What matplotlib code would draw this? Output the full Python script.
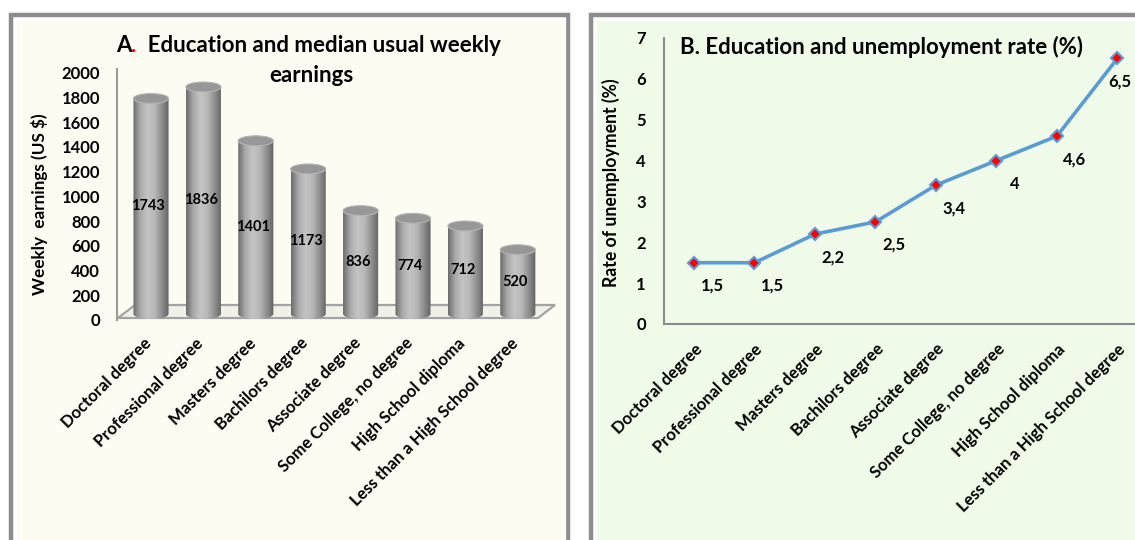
import numpy as np
import matplotlib
matplotlib.use("Agg")
import matplotlib.pyplot as plt
from matplotlib.patches import Rectangle, Polygon, Ellipse
from matplotlib.colors import LinearSegmentedColormap
from matplotlib.transforms import ScaledTranslation

# data
categories = ["Doctoral degree", "Professional degree", "Masters degree", "Bachilors degree",
              "Associate degree", "Some College, no degree", "High School diploma",
              "Less than a High School degree"]
earnings = [1743, 1836, 1401, 1173, 836, 774, 712, 520]
unemployment = [1.5, 1.5, 2.2, 2.5, 3.4, 4.0, 4.6, 6.5]
unemp_labels = ["1,5", "1,5", "2,2", "2,5", "3,4", "4", "4,6", "6,5"]
earn_ticks = list(range(0, 2001, 200))
rate_ticks = list(range(0, 8))

W, H = 1135, 540
plt.rcParams['font.family'] = ['Lato', 'DejaVu Sans']
plt.rcParams['font.weight'] = 'bold'

fig = plt.figure(figsize=(W / 100, H / 100), dpi=100)
fig.patch.set_facecolor('white')


def box(l, t, r, b):
    # pixel box (from top-left) -> figure fraction rect
    return [l / W, 1 - b / H, (r - l) / W, (b - t) / H]


# panel frames (behind the axes)
fig.patches.append(Rectangle((11 / W, -0.05), (567.5 - 11) / W, 1.05 - 15 / H,
                             transform=fig.transFigure, facecolor='#fcfcf3',
                             edgecolor='#8c8c8c', lw=3.2, zorder=-5))
fig.patches.append(Rectangle((591 / W, -0.05), 0.6, 1.05 - 15 / H,
                             transform=fig.transFigure, facecolor='#effbe8',
                             edgecolor='#8c8c8c', lw=3.2, zorder=-5))
# soft inner bevel
fig.patches.append(Rectangle((15 / W, -0.05), (563.5 - 15) / W, 1.05 - 19 / H,
                             transform=fig.transFigure, facecolor='none',
                             edgecolor='#ffffff', lw=2.5, alpha=0.8, zorder=-4))
fig.patches.append(Rectangle((595 / W, -0.05), 0.6, 1.05 - 19 / H,
                             transform=fig.transFigure, facecolor='none',
                             edgecolor='#ffffff', lw=2.5, alpha=0.8, zorder=-4))

# ---------------- A: earnings (3D-ish cylinders) ----------------
ax1 = fig.add_axes(box(117, 69, 555, 320))
ax1.set_facecolor('none')
xs = np.arange(len(categories))
bw = 0.67
eh = 80
lift = ScaledTranslation(0, 6 / 100, fig.dpi_scale_trans)
tr = ax1.transData + lift

cyl = LinearSegmentedColormap.from_list(
    'cyl', ['#6a6a6a', '#a9a9a9', '#c4c4c4', '#b8b8b8', '#8f8f8f', '#626262'])
grad = np.linspace(0, 1, 256).reshape(1, -1)

# floor
fx = lambda px: (px - 117) / 438
fy = lambda py: (320 - py) / 251
floor = Polygon([(fx(118), fy(318)), (fx(538), fy(318)), (fx(555), fy(305)), (fx(135), fy(305))],
                closed=True, transform=ax1.transAxes, facecolor='#f1f1ea',
                edgecolor='#a3a3a3', lw=1.6, zorder=1, clip_on=False)
ax1.add_patch(floor)

for x, v in zip(xs, earnings):
    t1 = np.linspace(np.pi, 2 * np.pi, 40)
    t2 = np.linspace(0, np.pi, 40)
    pts = np.vstack([
        np.column_stack([x + bw / 2 * np.cos(t1), eh / 2 * np.sin(t1)]),
        np.column_stack([x + bw / 2 * np.cos(t2), v + eh / 2 * np.sin(t2)]),
    ])
    outline = Polygon(pts, closed=True, transform=tr, facecolor='none', edgecolor='none')
    im = ax1.imshow(grad, extent=[x - bw / 2, x + bw / 2, -eh / 2, v + eh / 2],
                    aspect='auto', cmap=cyl, transform=tr, zorder=2,
                    interpolation='bicubic')
    im.set_clip_path(outline)
    ax1.add_patch(Ellipse((x, v), bw, eh, transform=tr, facecolor='#979797',
                          edgecolor='#b5b5b5', lw=0.8, zorder=3))
    ax1.text(x - 0.05, v / 2, str(v), transform=tr, ha='center', va='center',
             fontsize=10.5, fontweight='bold', zorder=4)

ax1.set_xlim(-0.649, 7.71)
ax1.set_ylim(0, 2030)
ax1.set_yticks(earn_ticks)
ax1.set_xticks([])
ax1.tick_params(axis='y', length=0, pad=12, labelsize=12)
for s in ['top', 'right', 'bottom']:
    ax1.spines[s].set_visible(False)
ax1.spines['left'].set_color('#9a9a9a')
ax1.spines['left'].set_linewidth(1.5)
for x, c in zip(xs, categories):
    ax1.annotate(c, xy=(x, 0), xycoords=('data', 'axes fraction'), xytext=(-8, -15),
                 textcoords='offset pixels', rotation=45, ha='right', va='top',
                 rotation_mode='anchor', fontsize=12, fontweight='bold')

fig.text(40 / W, 1 - 204 / H, "Weekly  earnings (US $)", rotation=90,
         ha='center', va='center', fontsize=12.3, fontweight='bold')

ta = fig.text(116 / W, 1 - 52 / H, "A", ha='left', va='baseline', fontsize=16, fontweight='bold')
tb = ax1.annotate(".", xy=(1, 0), xycoords=ta, va='bottom', ha='left', color='red',
                  fontsize=16, fontweight='bold', annotation_clip=False)
ax1.annotate("  Education and median usual weekly", xy=(1, 0), xycoords=tb, va='bottom',
             ha='left', fontsize=16, fontweight='bold', annotation_clip=False)
fig.text(311 / W, 1 - 75 / H, "earnings", ha='center', va='center', fontsize=16,
         fontweight='bold')

# ---------------- B: unemployment rate ----------------
ax2 = fig.add_axes(box(664, 38, 1135, 324))
ax2.set_facecolor('none')
ax2.plot(xs, unemployment, color='#5b9bd5', lw=2.6, marker='D', markersize=6.5,
         markerfacecolor='red', markeredgecolor='#5b9bd5', markeredgewidth=1.5,
         clip_on=False, zorder=3)
for i, (x, y, lab) in enumerate(zip(xs, unemployment, unemp_labels)):
    dx = 18 if i < len(xs) - 1 else 2
    ax2.annotate(lab, xy=(x, y), xytext=(dx, -23), textcoords='offset pixels',
                 ha='center', va='center', fontsize=12, fontweight='bold',
                 annotation_clip=False)
ax2.set_xlim(-0.496, 7.29)
ax2.set_ylim(0, 7)
ax2.set_yticks(rate_ticks)
ax2.set_xticks([])
ax2.tick_params(axis='y', length=0, pad=13, labelsize=12)
for s in ['top', 'right']:
    ax2.spines[s].set_visible(False)
for s in ['left', 'bottom']:
    ax2.spines[s].set_color('#8c8c8c')
    ax2.spines[s].set_linewidth(1.5)
for x, c in zip(xs, categories):
    ax2.annotate(c, xy=(x, 0), xycoords=('data', 'axes fraction'), xytext=(0, -17),
                 textcoords='offset pixels', rotation=45, ha='right', va='top',
                 rotation_mode='anchor', fontsize=12, fontweight='bold')

fig.text(611 / W, 1 - 183 / H, "Rate of unemployment (%)", rotation=90,
         ha='center', va='center', fontsize=12.7, fontweight='bold')
fig.text(680 / W, 1 - 47 / H, "B. Education and unemployment rate (%)", ha='left',
         va='center', fontsize=16, fontweight='bold')

fig.savefig('out.png', dpi=100)
